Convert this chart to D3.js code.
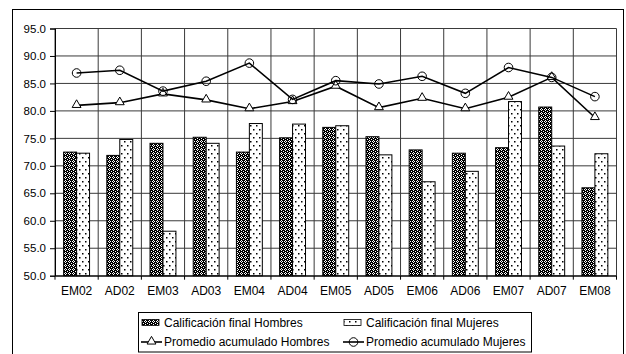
<!DOCTYPE html>
<html>
<head>
<meta charset="utf-8">
<script src="https://cdn.jsdelivr.net/npm/d3@7"></script>
<style>
  html, body { margin: 0; padding: 0; background: #fff; }
  svg { display: block; font-family: "Liberation Sans", Arial, sans-serif; }
</style>
</head>
<body>
<svg id="chart" width="626" height="354"></svg>
<script>
// Course groups along the x axis
const categories = ["EM02","AD02","EM03","AD03","EM04","AD04","EM05","AD05","EM06","AD06","EM07","AD07","EM08"];
// Final grades (bars)
const finalHombres = [72.5, 71.9, 74.1, 75.2, 72.5, 75.1, 77.0, 75.3, 72.9, 72.3, 73.3, 80.7, 66.0];
const finalMujeres = [72.3, 74.8, 58.1, 74.1, 77.7, 77.6, 77.3, 72.0, 67.1, 69.0, 81.7, 73.6, 72.2];
// Accumulated averages (lines)
const promHombres = [81.0, 81.5, 83.1, 82.0, 80.4, 81.7, 84.5, 80.6, 82.3, 80.4, 82.5, 86.1, 78.8];
const promMujeres = [86.9, 87.4, 83.6, 85.4, 88.7, 82.1, 85.5, 84.9, 86.3, 83.2, 87.9, 86.1, 82.6];
// Value axis ticks
const yTicks = [50, 55, 60, 65, 70, 75, 80, 85, 90, 95];

const seriesLabels = {
  barH: "Calificación final Hombres",
  barM: "Calificación final Mujeres",
  lineH: "Promedio acumulado Hombres",
  lineM: "Promedio acumulado Mujeres"
};

const svg = d3.select("#chart");
const plot = { left: 55, right: 616.5, top: 28.5, bottom: 275.7 };
const gridColor = "#3a3a3a";

// Fill patterns
const defs = svg.append("defs");
const checker = defs.append("pattern").attr("id", "pat-h")
  .attr("patternUnits", "userSpaceOnUse").attr("width", 4).attr("height", 4);
checker.append("rect").attr("width", 4).attr("height", 4).attr("fill", "#000");
[[1, 0], [0, 1], [2, 1], [1, 2], [3, 3]].forEach(([px, py]) => {
  checker.append("rect").attr("x", px).attr("y", py).attr("width", 1).attr("height", 1).attr("fill", "#fff");
});

const dots = defs.append("pattern").attr("id", "pat-m")
  .attr("patternUnits", "userSpaceOnUse").attr("width", 6).attr("height", 8);
dots.append("rect").attr("width", 6).attr("height", 8).attr("fill", "#fff");
dots.append("rect").attr("x", 1).attr("y", 1).attr("width", 1.5).attr("height", 1.5).attr("fill", "#000");
dots.append("rect").attr("x", 4).attr("y", 5).attr("width", 1.5).attr("height", 1.5).attr("fill", "#000");

// Outer chart frame
svg.append("rect").attr("x", 12.5).attr("y", 9.5).attr("width", 611).attr("height", 360)
  .attr("fill", "#fff").attr("stroke", "#000").attr("stroke-width", 1);

// Scales
const x = d3.scaleBand().domain(categories).range([plot.left, plot.right]).padding(0);
const y = d3.scaleLinear().domain([50, 95]).range([plot.bottom, plot.top]);
const barW = x.bandwidth() * 0.3;

// Horizontal gridlines
svg.append("g").selectAll("line").data(yTicks).join("line")
  .attr("x1", plot.left).attr("x2", plot.right)
  .attr("y1", d => y(d)).attr("y2", d => y(d))
  .attr("stroke", gridColor).attr("stroke-width", 1);

// Vertical gridlines at category boundaries
const bounds = categories.map(c => x(c)).concat([plot.right]);
svg.append("g").selectAll("line").data(bounds).join("line")
  .attr("x1", d => d).attr("x2", d => d)
  .attr("y1", plot.top).attr("y2", plot.bottom)
  .attr("stroke", gridColor).attr("stroke-width", 1);

// Bars
const barsG = svg.append("g");
barsG.selectAll("rect.h").data(finalHombres).join("rect").attr("class", "h")
  .attr("x", (d, i) => x(categories[i]) + x.bandwidth() / 2 - barW)
  .attr("y", d => y(d)).attr("width", barW).attr("height", d => y(50) - y(d))
  .attr("fill", "url(#pat-h)").attr("stroke", "#000").attr("stroke-width", 1);
barsG.selectAll("rect.m").data(finalMujeres).join("rect").attr("class", "m")
  .attr("x", (d, i) => x(categories[i]) + x.bandwidth() / 2)
  .attr("y", d => y(d)).attr("width", barW).attr("height", d => y(50) - y(d))
  .attr("fill", "url(#pat-m)").attr("stroke", "#000").attr("stroke-width", 1);

// Axes
const yAxis = d3.axisLeft(y).tickValues(yTicks).tickFormat(d3.format(".1f")).tickSize(5).tickPadding(4);
const gy = svg.append("g").attr("transform", `translate(${plot.left},0)`).call(yAxis);
gy.select(".domain").attr("stroke", "#000");
gy.selectAll(".tick line").attr("stroke", "#000");
gy.selectAll("text").attr("font-size", 11.5).attr("fill", "#000")
  .attr("font-family", "Liberation Sans, Arial, sans-serif");

const xAxis = d3.axisBottom(x).tickSize(0).tickPadding(11);
const gx = svg.append("g").attr("transform", `translate(0,${plot.bottom})`).call(xAxis);
gx.select(".domain").attr("stroke", "#000");
gx.selectAll("text").attr("font-size", 12).attr("fill", "#000")
  .attr("font-family", "Liberation Sans, Arial, sans-serif");
// Tick marks between categories
svg.append("g").selectAll("line").data(bounds).join("line")
  .attr("x1", d => d).attr("x2", d => d)
  .attr("y1", plot.bottom).attr("y2", plot.bottom + 4)
  .attr("stroke", "#000");

// Lines
const cx = (d, i) => x(categories[i]) + x.bandwidth() / 2;
const line = d3.line().x(cx).y(d => y(d));
const tri = d3.symbol().type(d3.symbolTriangle).size(34);

svg.append("path").datum(promHombres).attr("d", line)
  .attr("fill", "none").attr("stroke", "#000").attr("stroke-width", 1.6);
svg.append("g").selectAll("path").data(promHombres).join("path")
  .attr("d", tri)
  .attr("transform", (d, i) => `translate(${cx(d, i)},${y(d) - 0.5})`)
  .attr("fill", "#fff").attr("stroke", "#000").attr("stroke-width", 1);

svg.append("path").datum(promMujeres).attr("d", line)
  .attr("fill", "none").attr("stroke", "#000").attr("stroke-width", 1.6);
svg.append("g").selectAll("circle").data(promMujeres).join("circle")
  .attr("cx", cx).attr("cy", d => y(d)).attr("r", 4.3)
  .attr("fill", "none").attr("stroke", "#000").attr("stroke-width", 1);

// Legend
const lg = svg.append("g");
lg.append("rect").attr("x", 138.5).attr("y", 312.5).attr("width", 393).attr("height", 39.5)
  .attr("fill", "#fff").attr("stroke", "#000");
const row1 = 322.5, row2 = 342;
const col1 = 141, col2 = 343, symW = 21;
function legendText(xp, yp, t) {
  lg.append("text").attr("x", xp).attr("y", yp).attr("dy", "0.35em")
    .attr("font-size", 12).attr("fill", "#000").text(t);
}
lg.append("rect").attr("x", col1 + 1).attr("y", row1 - 3).attr("width", symW - 4).attr("height", 6)
  .attr("fill", "url(#pat-h)").attr("stroke", "#000").attr("stroke-width", 0.8);
legendText(col1 + symW + 2, row1, seriesLabels.barH);
lg.append("rect").attr("x", col2 + 1).attr("y", row1 - 3).attr("width", symW - 4).attr("height", 6)
  .attr("fill", "url(#pat-m)").attr("stroke", "#000").attr("stroke-width", 0.8);
legendText(col2 + symW + 2, row1, seriesLabels.barM);

lg.append("line").attr("x1", col1).attr("x2", col1 + symW).attr("y1", row2).attr("y2", row2)
  .attr("stroke", "#000").attr("stroke-width", 1.6);
lg.append("path").attr("d", tri).attr("transform", `translate(${col1 + symW / 2},${row2 - 0.5})`)
  .attr("fill", "#fff").attr("stroke", "#000");
legendText(col1 + symW + 2, row2, seriesLabels.lineH);
lg.append("line").attr("x1", col2).attr("x2", col2 + symW).attr("y1", row2).attr("y2", row2)
  .attr("stroke", "#000").attr("stroke-width", 1.6);
lg.append("circle").attr("cx", col2 + symW / 2).attr("cy", row2).attr("r", 4.3)
  .attr("fill", "none").attr("stroke", "#000");
legendText(col2 + symW + 2, row2, seriesLabels.lineM);
</script>
</body>
</html>
